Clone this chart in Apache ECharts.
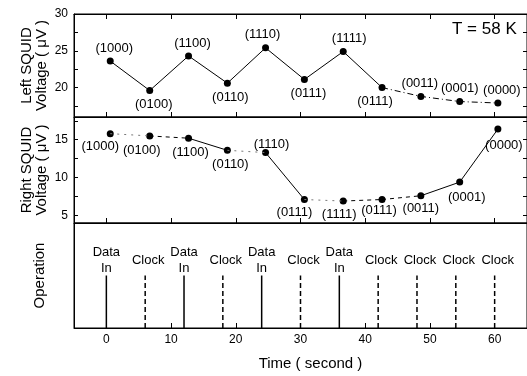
<!DOCTYPE html>
<html>
<head>
<meta charset="utf-8">
<script src="https://cdn.jsdelivr.net/npm/echarts@6/dist/echarts.min.js"></script>
<style>
  html, body { margin: 0; padding: 0; background: #fff; }
  #chart { width: 527px; height: 376px; }
</style>
</head>
<body>
<div id="chart"></div>
<script>
// time of each read-out (s) and the logic state that was read
const times = [0.6, 6.7, 12.7, 18.7, 24.6, 30.6, 36.6, 42.6, 48.6, 54.6, 60.5]
const states = ['(1000)', '(0100)', '(1100)', '(0110)', '(1110)', '(0111)', '(1111)', '(0111)', '(0011)', '(0001)', '(0000)']
const leftVolt = [23.6, 19.6, 24.3, 20.6, 25.4, 21.1, 24.9, 20.0, 18.8, 18.1, 17.9]
const rightVolt = [15.8, 15.5, 15.2, 13.6, 13.3, 7.1, 6.9, 7.1, 7.6, 9.4, 16.4]

// operation sequence
const dataInTimes = [0, 12, 24, 36]
const clockTimes = [6, 18, 30, 42, 48, 54, 60]
const pulseLevel = 0.5

const xTicks = [0, 10, 20, 30, 40, 50, 60]
const leftTicks = [20, 25, 30]
const rightTicks = [5, 10, 15]

const font = 'Liberation Sans, Arial, sans-serif'
const black = '#000'

// label placement per point
const topPos = ['top', 'bottom', 'top', 'bottom', 'top', 'bottom', 'top', 'bottom', 'top', 'top', 'top']
const topOff = [[4, 0], [4, 0], [4, 0], [3, 0], [-3, 0], [4, 0], [6, 0], [-7, 0], [-1, 0], [0, 0], [4, 0]]
const midPos = ['bottom', 'bottom', 'bottom', 'bottom', 'top', 'bottom', 'bottom', 'bottom', 'bottom', 'bottom', 'bottom']
const midOff = [[-10, 0], [-8, 1], [2, 1], [3, 1], [6, 2], [-10, 0], [-4, 0], [-3, -2], [0, 0], [7, 2], [6, 3]]
// segment styles in the right panel
const midSeg = ['dot', 'dash', 'solid', 'dot', 'solid', 'dot', 'dash', 'dash', 'solid', 'solid']

const chart = echarts.init(document.getElementById('chart'))

function pts(v, a, b) {
  const out = []
  for (let i = a; i <= b; i++) out.push([times[i], v[i]])
  return out
}

function xAx(grid, pos, labels) {
  return {
    type: 'value', gridIndex: grid, position: pos, min: -5, max: 65,
    axisLine: { show: true, onZero: false, lineStyle: { color: black } },
    axisTick: { show: true, inside: true, length: 5, customValues: xTicks, lineStyle: { color: black } },
    axisLabel: { show: labels, customValues: xTicks, color: black, fontFamily: font, fontSize: 12, margin: 6 },
    splitLine: { show: false }
  }
}

function yAx(grid, pos, min, max, labels, ticks) {
  return {
    type: 'value', gridIndex: grid, position: pos, min: min, max: max,
    axisLine: { show: true, onZero: false, lineStyle: { color: black } },
    axisTick: { show: ticks.length > 0, inside: true, length: 4, customValues: ticks, lineStyle: { color: black } },
    axisLabel: { show: labels.length > 0, customValues: labels, color: black, fontFamily: font, fontSize: 12, margin: 6 },
    splitLine: { show: false },
    nameLocation: 'middle',
    nameMoveOverlap: false,
    nameTextStyle: { color: black, fontFamily: font, fontSize: 15, lineHeight: 15 }
  }
}

const series = []

// left SQUID
series.push({
  type: 'line', xAxisIndex: 0, yAxisIndex: 0, data: pts(leftVolt, 0, 7), symbol: 'none',
  lineStyle: { color: black, width: 1 }
})
series.push({
  type: 'line', xAxisIndex: 0, yAxisIndex: 0, data: pts(leftVolt, 7, 10), symbol: 'none',
  lineStyle: { color: black, width: 1, type: [6, 3, 1, 3] }
})
series.push({
  type: 'scatter', xAxisIndex: 0, yAxisIndex: 0, symbolSize: 7,
  itemStyle: { color: black, opacity: 1 },
  data: times.map((t, i) => ({
    value: [t, leftVolt[i]],
    label: {
      show: true, formatter: states[i], position: topPos[i], distance: topPos[i] === 'top' ? 3 : 4,
      offset: topOff[i], color: black, fontFamily: font, fontSize: 13
    }
  }))
})

// right SQUID
midSeg.forEach((s, i) => {
  series.push({
    type: 'line', xAxisIndex: 2, yAxisIndex: 2, data: pts(rightVolt, i, i + 1), symbol: 'none',
    lineStyle: {
      color: s === 'dot' ? '#777' : black, width: 1,
      type: s === 'solid' ? 'solid' : (s === 'dash' ? [4, 4] : [2, 5])
    }
  })
})
series.push({
  type: 'scatter', xAxisIndex: 2, yAxisIndex: 2, symbolSize: 7,
  itemStyle: { color: black, opacity: 1 },
  data: times.map((t, i) => ({
    value: [t, rightVolt[i]],
    label: {
      show: true, formatter: states[i], position: midPos[i], distance: midPos[i] === 'top' ? 0 : 3,
      offset: midOff[i], color: black, fontFamily: font, fontSize: 13
    }
  }))
})

// operation pulses
function pulse(t, name, dashed) {
  return {
    type: 'line', xAxisIndex: 3, yAxisIndex: 4, symbol: 'circle', symbolSize: 0,
    itemStyle: { color: black },
    lineStyle: { color: black, width: 1.5, type: dashed ? [5, 3] : 'solid' },
    data: [
      { value: [t, 0] },
      {
        value: [t, pulseLevel],
        label: {
          show: true, formatter: name, position: 'top', distance: dashed ? 7 : -1,
          offset: dashed ? [3, 0] : [0, 0], color: black, fontFamily: font, fontSize: 13, lineHeight: 16
        }
      }
    ]
  }
}
dataInTimes.forEach(t => series.push(pulse(t, 'Data\nIn', false)))
clockTimes.forEach(t => series.push(pulse(t, 'Clock', true)))

const gridBase = { left: 74, width: 455, show: true, borderColor: black, borderWidth: 1 }

chart.setOption({
  animation: false,
  title: {
    text: 'T = 58 K', left: 447, top: 16,
    textStyle: { color: black, fontFamily: font, fontSize: 17, fontWeight: 'normal' }
  },
  grid: [
    Object.assign({ top: 14, height: 103 }, gridBase),
    Object.assign({ top: 117, height: 106 }, gridBase),
    Object.assign({ top: 223, height: 105 }, gridBase)
  ],
  xAxis: [
    xAx(0, 'bottom', false),
    xAx(0, 'top', false),
    xAx(1, 'bottom', false),
    Object.assign(xAx(2, 'bottom', true), {
      name: 'Time ( second )', nameLocation: 'middle', nameGap: 28, nameMoveOverlap: false,
      nameTextStyle: { color: black, fontFamily: font, fontSize: 15, padding: [0, 0, 0, 20] }
    })
  ],
  yAxis: [
    Object.assign(yAx(0, 'left', 16, 30, leftTicks, [17.5, 20, 22.5, 25, 27.5]), {
      name: 'Left SQUID\nVoltage ( μV )', nameGap: 25
    }),
    yAx(0, 'right', 16, 30, [], [17.5, 20, 22.5, 25, 27.5]),
    Object.assign(yAx(1, 'left', 4, 18, rightTicks, [5, 7.5, 10, 12.5, 15, 17.5]), {
      name: 'Right SQUID\nVoltage ( μV )', nameGap: 25
    }),
    yAx(1, 'right', 4, 18, [], [5, 7.5, 10, 12.5, 15, 17.5]),
    Object.assign(yAx(2, 'left', 0, 1, [], []), {
      name: 'Operation', nameGap: 27
    })
  ],
  series: series
})
</script>
</body>
</html>
